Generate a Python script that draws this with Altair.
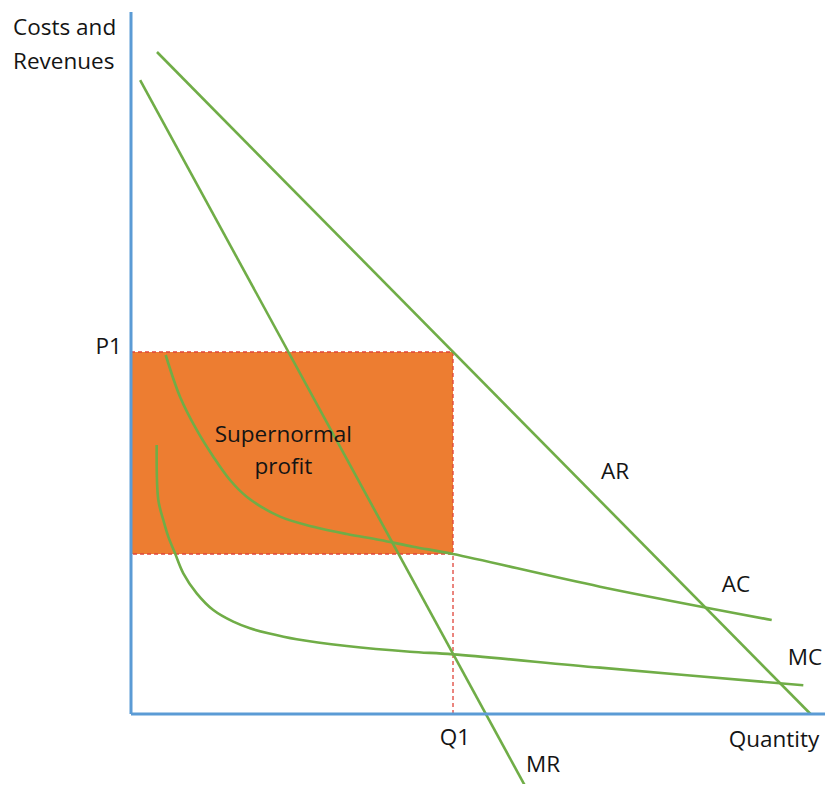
import altair as alt
import pandas as pd

# ---- data (quantity 0-100, costs/revenues 0-100) ----
ar_q = [3.7, 96.8]
ar_c = [94.3, 0.0]
mr_q = [1.3, 56.6]
mr_c = [90.3, -11.1]
ac_q = [4.94, 6.98, 9.36, 11.72, 14.10, 16.48, 21.23, 25.97, 30.73, 35.47, 40.21, 45.87, 66.81, 91.27]
ac_c = [51.14, 45.20, 40.46, 36.65, 33.33, 30.95, 28.11, 26.68, 25.64, 24.79, 23.83, 22.79, 18.14, 13.39]
mc_q = [3.66, 3.89, 4.60, 5.31, 6.27, 7.45, 9.36, 11.72, 14.57, 16.95, 19.56, 23.60, 30.73, 39.74, 45.87, 66.81, 95.77]
mc_c = [38.32, 30.48, 27.64, 25.26, 22.89, 20.04, 17.19, 14.81, 13.15, 12.21, 11.50, 10.64, 9.69, 8.87, 8.50, 6.60, 4.09]

p1 = 51.57
q1 = 45.87
ac_at_q1 = 22.79
x_axis_max = 98.86
y_axis_max = 100

center_labels = ["Supernormal", "profit", "Q1", "MR", "AC", "MC", "Quantity", "AR"]
center_q = [21.70, 21.70, 46.15, 58.69, 86.18, 96.01, 91.60, 68.95]
center_c = [39.74, 35.23, -3.42, -7.26, 18.38, 7.98, -3.70, 34.47]

left_labels = ["Costs and", "Revenues"]
left_q = [-16.8, -16.8]
left_c = [97.72, 92.88]

right_labels = ["P1"]
right_q = [-1.3]
right_c = [52.28]

GREEN = "#70AD47"
BLUE = "#5B9BD5"
ORANGE = "#ED7D31"
RED = "#E0443A"
TEXT = "#141414"
FONT = "Open Sans"
FS = 22.5

def curve_df(pairs):
    rows = []
    for name, qs, cs in pairs:
        for i, (q, c) in enumerate(zip(qs, cs)):
            rows.append({"curve": name, "q": q, "c": c, "order": i})
    return pd.DataFrame(rows)

straight = curve_df([("AR", ar_q, ar_c), ("MR", mr_q, mr_c)])
bent = curve_df([("AC", ac_q, ac_c), ("MC", mc_q, mc_c)])

xs = alt.Scale(domain=[0, x_axis_max], nice=False, zero=False)
ys = alt.Scale(domain=[0, y_axis_max], nice=False, zero=False)

rect_df = pd.DataFrame({"q": [0], "q2": [q1], "c": [ac_at_q1], "c2": [p1]})
fill = alt.Chart(rect_df).mark_rect(color=ORANGE).encode(
    x=alt.X("q:Q", scale=xs, axis=None), x2="q2", y=alt.Y("c:Q", scale=ys, axis=None), y2="c2")
border = alt.Chart(rect_df).mark_rect(fill=None, stroke=RED, strokeWidth=1.3, strokeDash=[4, 3]).encode(
    x=alt.X("q:Q", scale=xs, axis=None), x2="q2", y=alt.Y("c:Q", scale=ys, axis=None), y2="c2")

vline_df = pd.DataFrame({"q": [q1], "c": [0], "c2": [ac_at_q1]})
vline = alt.Chart(vline_df).mark_rule(stroke=RED, strokeWidth=1.3, strokeDash=[4, 3]).encode(
    x=alt.X("q:Q", scale=xs, axis=None), y=alt.Y("c:Q", scale=ys, axis=None), y2="c2")

def line_layer(df, interp):
    return alt.Chart(df).mark_line(color=GREEN, strokeWidth=2.6, interpolate=interp, clip=False).encode(
        x=alt.X("q:Q", scale=xs, axis=None), y=alt.Y("c:Q", scale=ys, axis=None),
        detail="curve:N", order="order:Q")

yaxis_df = pd.DataFrame({"q": [0], "c": [0], "c2": [y_axis_max]})
yaxis = alt.Chart(yaxis_df).mark_rule(color=BLUE, strokeWidth=3).encode(
    x=alt.X("q:Q", scale=xs, axis=None), y=alt.Y("c:Q", scale=ys, axis=None), y2="c2")
xaxis_df = pd.DataFrame({"q": [0], "q2": [x_axis_max], "c": [0]})
xaxis = alt.Chart(xaxis_df).mark_rule(color=BLUE, strokeWidth=3).encode(
    x=alt.X("q:Q", scale=xs, axis=None), x2="q2", y=alt.Y("c:Q", scale=ys, axis=None))

def text_layer(labels, qs, cs, align):
    df = pd.DataFrame({"label": labels, "q": qs, "c": cs})
    return alt.Chart(df).mark_text(align=align, baseline="middle", font=FONT, fontSize=FS,
                                   fontWeight=500, color=TEXT).encode(
        x=alt.X("q:Q", scale=xs, axis=None), y=alt.Y("c:Q", scale=ys, axis=None), text="label:N")

chart = alt.layer(
    fill, border, vline, line_layer(straight, "linear"), line_layer(bent, "catmull-rom"), yaxis, xaxis,
    text_layer(center_labels, center_q, center_c, "center"),
    text_layer(left_labels, left_q, left_c, "left"),
    text_layer(right_labels, right_q, right_c, "right"),
).properties(
    width=694, height=702,
    padding={"left": 123, "top": 4, "right": 0, "bottom": 70},
    autosize=alt.AutoSizeParams(type="none"),
).configure_view(stroke=None)

chart.save("out.html", embed_options={"renderer": "svg", "actions": False})
